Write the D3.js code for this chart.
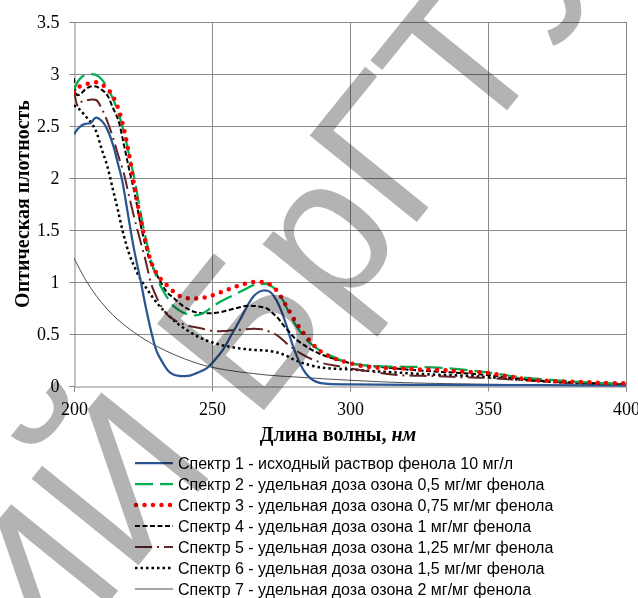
<!DOCTYPE html>
<html>
<head>
<meta charset="utf-8">
<script src="https://cdn.jsdelivr.net/npm/d3@7"></script>
<style>
  body { margin: 0; background: #fff; }
  svg { display: block; }
</style>
</head>
<body>
<svg id="chart" width="638" height="598"></svg>
<script>
const xTicks = [200, 250, 300, 350, 400]
const yTicks = [0, 0.5, 1, 1.5, 2, 2.5, 3, 3.5]
const yTickLabels = ["0", "0.5", "1", "1.5", "2", "2.5", "3", "3.5"]

const seriesNames = [
  "Спектр 1 - исходный раствор фенола 10 мг/л",
  "Спектр 2 - удельная доза озона 0,5 мг/мг фенола",
  "Спектр 3 - удельная доза озона 0,75 мг/мг фенола",
  "Спектр 4 - удельная доза озона 1 мг/мг фенола",
  "Спектр 5 - удельная доза озона 1,25 мг/мг фенола",
  "Спектр 6 - удельная доза озона 1,5 мг/мг фенола",
  "Спектр 7 - удельная доза озона 2 мг/мг фенола"
]

const watermarkText = "РЕПОЗИТОРИЙ БрГТУ"

// [длина волны, оптическая плотность]
const spectrum1 = [[200,2.42],[202,2.49],[204,2.52],[206,2.53],[208,2.58],[210,2.55],[212,2.47],[214,2.33],[216,2.13],[217.5,1.97],[219,1.74],[220.5,1.5],[222,1.28],[224,1.03],[226,0.76],[228,0.52],[230,0.33],[232,0.23],[234,0.15],[236,0.11],[238,0.097],[240,0.095],[242,0.1],[245,0.13],[248,0.17],[251,0.25],[254,0.35],[257,0.49],[260,0.63],[263,0.78],[265,0.86],[267,0.905],[269,0.92],[271,0.905],[273,0.84],[275,0.73],[277,0.58],[279,0.41],[281,0.27],[283,0.16],[285,0.09],[287,0.05],[289,0.03],[292,0.02],[300,0.015],[330,0.01],[370,0.008],[400,0.003]]
const spectrum2 = [[200,2.85],[202,2.95],[204,2.99],[206,3.0],[208,2.99],[210,2.95],[212,2.87],[214,2.77],[216,2.63],[218,2.45],[220,2.22],[222,1.98],[224,1.68],[226,1.42],[228,1.2],[230,1.04],[232,0.93],[234,0.84],[236,0.77],[238,0.73],[240,0.7],[242,0.69],[244,0.68],[246,0.69],[248,0.72],[250,0.76],[253,0.81],[256,0.85],[259,0.89],[262,0.93],[265,0.97],[268,0.98],[270,0.98],[272,0.95],[274,0.9],[276,0.81],[278,0.7],[280,0.6],[282,0.52],[284,0.45],[287,0.38],[290,0.33],[294,0.28],[300,0.22],[310,0.19],[320,0.185],[330,0.18],[340,0.16],[350,0.13],[360,0.09],[370,0.065],[380,0.045],[390,0.03],[400,0.02]]
const spectrum3 = [[200,2.82],[202,2.88],[204,2.9],[206,2.91],[208,2.92],[210,2.9],[212,2.86],[214,2.79],[216,2.67],[218,2.48],[220,2.22],[222,1.9],[224,1.62],[226,1.38],[228,1.19],[230,1.08],[232,1.01],[234,0.96],[236,0.91],[238,0.87],[240,0.85],[242,0.84],[244,0.84],[246,0.845],[248,0.855],[250,0.87],[253,0.9],[256,0.93],[259,0.96],[262,0.985],[265,1.0],[268,1.0],[270,0.99],[272,0.955],[274,0.9],[276,0.81],[278,0.72],[280,0.63],[282,0.55],[284,0.48],[286,0.42],[288,0.36],[290,0.32],[293,0.28],[296,0.25],[300,0.22],[305,0.19],[310,0.175],[318,0.17],[325,0.16],[333,0.155],[340,0.14],[350,0.125],[358,0.09],[366,0.06],[375,0.045],[384,0.038],[392,0.03],[400,0.025]]
const spectrum4 = [[200,2.96],[201,2.8],[202,2.8],[204,2.85],[206,2.88],[208,2.88],[210,2.85],[212,2.8],[214,2.68],[216,2.56],[218,2.33],[220,2.08],[222,1.85],[224,1.57],[226,1.34],[228,1.17],[230,1.07],[232,0.97],[234,0.89],[236,0.85],[238,0.8],[240,0.76],[242,0.73],[244,0.71],[246,0.7],[248,0.7],[250,0.7],[253,0.71],[256,0.73],[259,0.75],[262,0.77],[265,0.77],[268,0.76],[270,0.745],[272,0.7],[274,0.65],[276,0.58],[278,0.52],[280,0.46],[283,0.4],[286,0.35],[289,0.31],[292,0.28],[296,0.25],[300,0.22],[305,0.2],[310,0.185],[320,0.16],[330,0.14],[340,0.125],[350,0.105],[360,0.075],[370,0.05],[380,0.035],[390,0.025],[400,0.02]]
const spectrum5 = [[200,2.85],[201.5,2.69],[203,2.74],[205,2.75],[208,2.75],[210,2.67],[212,2.55],[214,2.4],[216,2.22],[218,2.05],[220,1.82],[222,1.6],[224,1.4],[226,1.2],[228,0.98],[230,0.85],[232,0.75],[234,0.68],[236,0.64],[238,0.61],[240,0.59],[243,0.57],[246,0.555],[250,0.53],[255,0.53],[260,0.54],[265,0.55],[268,0.545],[271,0.52],[274,0.48],[277,0.41],[280,0.35],[283,0.3],[286,0.26],[290,0.22],[295,0.195],[300,0.17],[307,0.14],[318,0.105],[330,0.095],[340,0.085],[350,0.077],[360,0.06],[370,0.045],[380,0.03],[390,0.02],[400,0.015]]
const spectrum6 = [[200,2.7],[202,2.66],[204,2.6],[206,2.54],[208,2.45],[210,2.28],[212,2.12],[214,1.9],[216,1.68],[218,1.45],[220,1.27],[222,1.14],[224,1.03],[226,0.95],[228,0.87],[230,0.8],[232,0.74],[235,0.66],[238,0.59],[242,0.52],[246,0.46],[250,0.42],[254,0.39],[258,0.37],[262,0.355],[266,0.345],[270,0.34],[274,0.32],[277,0.29],[280,0.25],[283,0.22],[287,0.19],[292,0.17],[300,0.16],[310,0.14],[320,0.125],[330,0.11],[340,0.1],[350,0.085],[360,0.065],[370,0.045],[380,0.03],[390,0.02],[400,0.015]]
const spectrum7 = [[200,1.23],[204,1.03],[208,0.87],[212,0.74],[216,0.635],[220,0.55],[224,0.475],[228,0.41],[232,0.355],[236,0.305],[240,0.262],[245,0.215],[250,0.18],[255,0.155],[260,0.135],[265,0.12],[270,0.105],[275,0.095],[280,0.087],[290,0.07],[300,0.055],[310,0.042],[320,0.032],[335,0.023],[360,0.014],[400,0.005]]

const seriesData = [spectrum1, spectrum2, spectrum3, spectrum4, spectrum5, spectrum6, spectrum7]

const seriesStyles = [
  { color: "#2b5592", width: 2.25, dash: null, cap: "butt" },
  { color: "#00b050", width: 2.25, dash: "18 7", cap: "butt" },
  { color: "#ff0000", width: 4.5, dash: "0 8.5", cap: "round" },
  { color: "#000000", width: 2, dash: "5 2.5", cap: "butt" },
  { color: "#632523", width: 2, dash: "17 5 2 5", cap: "butt" },
  { color: "#000000", width: 2.5, dash: "2.5 3", cap: "butt" },
  { color: "#3a3a3a", width: 0.9, dash: null, cap: "butt" }
]

const width = 638
const height = 598
const plot = { left: 74, right: 626, top: 22, bottom: 386 }

const svg = d3.select("#chart")

svg.append("rect")
  .attr("width", width)
  .attr("height", height)
  .attr("fill", "#fff")

const x = d3.scaleLinear().domain([200, 400]).range([plot.left, plot.right])
const y = d3.scaleLinear().domain([0, 3.5]).range([plot.bottom, plot.top])

// сетка
const grid = svg.append("g").attr("class", "grid")
grid.selectAll("line.h")
  .data(yTicks.slice(1))
  .join("line")
  .attr("class", "h")
  .attr("x1", plot.left).attr("x2", plot.right)
  .attr("y1", d => y(d) + 0.5).attr("y2", d => y(d) + 0.5)
  .attr("stroke", "#8a8a8a")
grid.selectAll("line.v")
  .data(xTicks.slice(1))
  .join("line")
  .attr("class", "v")
  .attr("y1", plot.top).attr("y2", plot.bottom)
  .attr("x1", d => x(d) + 0.5).attr("x2", d => x(d) + 0.5)
  .attr("stroke", "#8a8a8a")

// оси
const xAxis = svg.append("g")
  .attr("transform", `translate(0, ${plot.bottom + 0.5})`)
  .call(d3.axisBottom(x).tickValues(xTicks).tickSize(5).tickPadding(8).tickFormat(d3.format("d")))
const yAxis = svg.append("g")
  .attr("transform", `translate(${plot.left + 0.5}, 0)`)
  .call(d3.axisLeft(y).tickValues(yTicks).tickSize(5).tickPadding(10).tickFormat((d, i) => yTickLabels[i]))

;[xAxis, yAxis].forEach(a => {
  a.select(".domain").attr("stroke", "#868686")
  a.selectAll(".tick line").attr("stroke", "#868686")
  a.selectAll(".tick text")
    .attr("fill", "#000")
    .style("font-family", "'Liberation Serif', 'Times New Roman', serif")
    .style("font-size", "18px")
})
xAxis.selectAll(".tick text").attr("dy", "0.85em")

// кривые
const line = d3.line()
  .x(d => x(d[0]))
  .y(d => y(d[1]))
  .curve(d3.curveCatmullRom.alpha(0.5))

svg.append("defs").append("clipPath")
  .attr("id", "plot-clip")
  .append("rect")
  .attr("x", plot.left).attr("y", plot.top - 5)
  .attr("width", plot.right - plot.left + 4)
  .attr("height", plot.bottom - plot.top + 10)

const curves = svg.append("g").attr("clip-path", "url(#plot-clip)")
const drawOrder = [6, 5, 4, 0, 3, 1, 2]
drawOrder.forEach(i => {
  const s = seriesStyles[i]
  curves.append("path")
    .datum(seriesData[i])
    .attr("d", line)
    .attr("fill", "none")
    .attr("stroke", s.color)
    .attr("stroke-width", s.width)
    .attr("stroke-dasharray", s.dash)
    .attr("stroke-linecap", s.cap)
    .attr("stroke-linejoin", "round")
})

// подписи осей
svg.append("text")
  .attr("x", 338)
  .attr("y", 441)
  .attr("text-anchor", "middle")
  .style("font-family", "'Liberation Serif', 'Times New Roman', serif")
  .style("font-size", "20px")
  .style("font-weight", "bold")
  .text("Длина волны, ")
  .append("tspan")
  .style("font-style", "italic")
  .text("нм")

svg.append("text")
  .attr("transform", `translate(29, ${(plot.top + plot.bottom) / 2}) rotate(-90)`)
  .attr("text-anchor", "middle")
  .style("font-family", "'Liberation Serif', 'Times New Roman', serif")
  .style("font-size", "20px")
  .style("font-weight", "bold")
  .text("Оптическая плотность")

// легенда
const legend = svg.append("g").attr("transform", "translate(135, 463)")
seriesNames.forEach((name, i) => {
  const s = seriesStyles[i]
  const row = legend.append("g").attr("transform", `translate(0, ${i * 21})`)
  row.append("line")
    .attr("x1", i === 2 ? 1 : 0).attr("x2", 38)
    .attr("y1", 0).attr("y2", 0)
    .attr("stroke", s.color)
    .attr("stroke-width", s.width)
    .attr("stroke-dasharray", s.dash)
    .attr("stroke-linecap", s.cap)
  row.append("text")
    .attr("x", 43)
    .attr("y", 5.5)
    .style("font-family", "'Liberation Sans', Arial, sans-serif")
    .style("font-size", "16px")
    .attr("fill", "#000")
    .text(name)
})

// водяной знак: ножка буквы «Т» стоит на базовой линии в точке (513, 103)
const wm = svg.append("text")
  .style("font-family", "'Liberation Sans', Arial, sans-serif")
  .style("font-size", "200px")
  .style("mix-blend-mode", "multiply")
  .attr("fill", "#b3b3b3")
  .text(watermarkText)
const tIndex = watermarkText.lastIndexOf("Т")
const tStart = wm.node().getStartPositionOfChar(tIndex).x
const tEnd = wm.node().getEndPositionOfChar(tIndex).x
wm.attr("transform", `translate(513, 103) rotate(-51) translate(${-(tStart + tEnd) / 2}, 0)`)
</script>
</body>
</html>
